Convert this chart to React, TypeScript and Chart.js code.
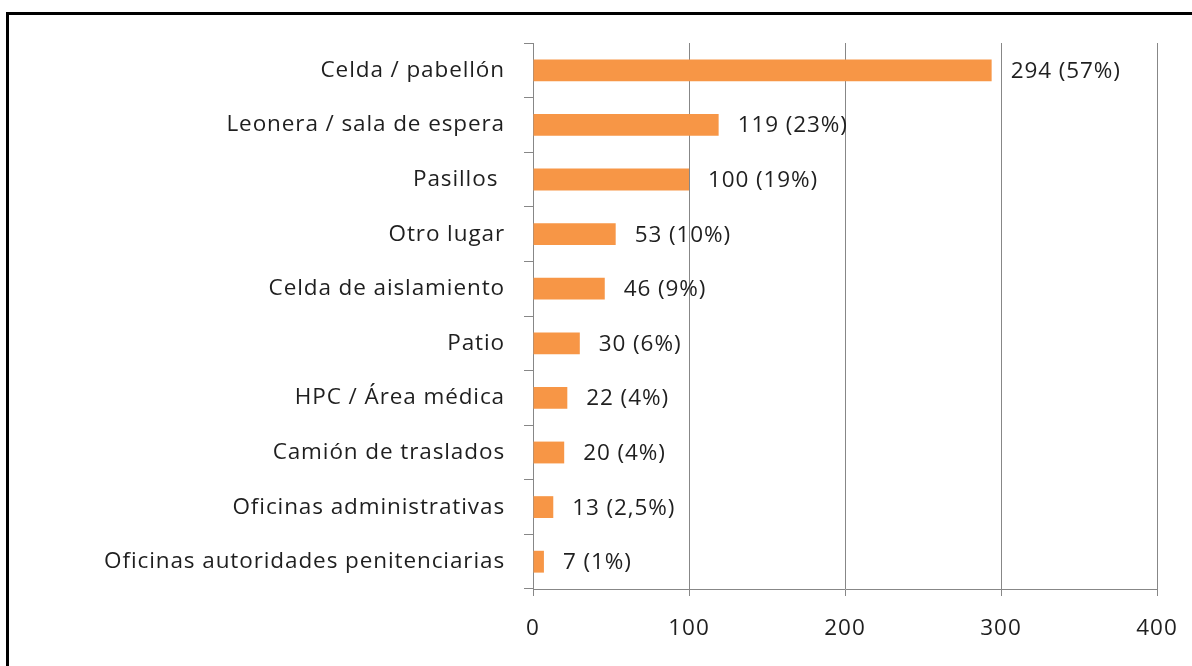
import React, { useEffect, useRef } from "react";
import { Chart, registerables } from "chart.js";

Chart.register(...registerables);

const categories = [
  "Celda / pabellón",
  "Leonera / sala de espera",
  "Pasillos ",
  "Otro lugar",
  "Celda de aislamiento",
  "Patio",
  "HPC / Área médica",
  "Camión de traslados",
  "Oficinas administrativas",
  "Oficinas autoridades penitenciarias",
];
const values = [294, 119, 100, 53, 46, 30, 22, 20, 13, 7];
const valueLabels = [
  "294 (57%)",
  "119 (23%)",
  "100 (19%)",
  "53 (10%)",
  "46 (9%)",
  "30 (6%)",
  "22 (4%)",
  "20 (4%)",
  "13 (2,5%)",
  "7 (1%)",
];
const xTicks = [0, 100, 200, 300, 400];

const FONT = "'Open Sans'";
const FONT_SIZE = 22.5;
const SPACING = "0.9px";
const TEXT = "#1f1f1f";
const GRID = "#878787";

const spacingPlugin = {
  id: "spacing",
  beforeDraw(chart: any) {
    chart.ctx.letterSpacing = SPACING;
  },
};

const labelPlugin = {
  id: "valueLabels",
  afterDatasetsDraw(chart: any) {
    const ctx = chart.ctx;
    const meta = chart.getDatasetMeta(0);
    ctx.save();
    ctx.letterSpacing = SPACING;
    ctx.font = `${FONT_SIZE}px ${FONT}`;
    ctx.fillStyle = TEXT;
    ctx.textAlign = "left";
    ctx.textBaseline = "middle";
    meta.data.forEach((bar: any, i: number) => {
      ctx.fillText(valueLabels[i], bar.x + 19, bar.y + 1);
    });
    ctx.restore();
  },
};

export default function App() {
  const ref = useRef<HTMLCanvasElement>(null);
  useEffect(() => {
    document.body.style.margin = "0";
    const chart = new Chart(ref.current!, {
      type: "bar",
      data: {
        labels: categories,
        datasets: [
          {
            data: values,
            backgroundColor: "#F79646",
            borderWidth: 0,
            barPercentage: 0.8,
            categoryPercentage: 0.5,
          },
        ],
      },
      options: {
        indexAxis: "y",
        animation: false,
        responsive: false,
        layout: { padding: { left: 0, top: 43, right: 35, bottom: 0 } },
        plugins: { legend: { display: false }, tooltip: { enabled: false } },
        scales: {
          x: {
            min: 0,
            max: 400,
            afterBuildTicks: (s: any) => {
              s.ticks = xTicks.map((v) => ({ value: v }));
            },
            afterFit: (s: any) => {
              s.height = 77;
              s.paddingLeft = 0;
              s.paddingRight = 0;
            },
            grid: {
              color: GRID,
              lineWidth: 1,
              drawTicks: true,
              tickLength: 7,
              tickColor: GRID,
            },
            border: { display: true, color: GRID, width: 1 },
            ticks: {
              padding: 19,
              color: TEXT,
              font: { family: FONT, size: FONT_SIZE },
            },
          },
          y: {
            afterFit: (s: any) => {
              s.width = 533;
              s.paddingTop = 0;
              s.paddingBottom = 0;
            },
            grid: {
              offset: true,
              drawOnChartArea: false,
              drawTicks: true,
              tickLength: 9,
              tickColor: GRID,
            },
            border: { display: true, color: GRID, width: 1 },
            ticks: {
              padding: 19,
              color: TEXT,
              font: { family: FONT, size: FONT_SIZE },
            },
          },
        },
      },
      plugins: [spacingPlugin, labelPlugin],
    });
    return () => chart.destroy();
  }, []);
  return (
    <div style={{ position: "relative", width: 1192, height: 666, background: "#fff", overflow: "hidden" }}>
      <div
        style={{
          position: "absolute",
          left: 6,
          top: 12,
          width: 1200,
          height: 700,
          borderLeft: "3px solid #000",
          borderTop: "3px solid #000",
          boxSizing: "border-box",
        }}
      />
      <canvas ref={ref} width={1192} height={666} style={{ position: "absolute", left: 0, top: 0 }} />
    </div>
  );
}
